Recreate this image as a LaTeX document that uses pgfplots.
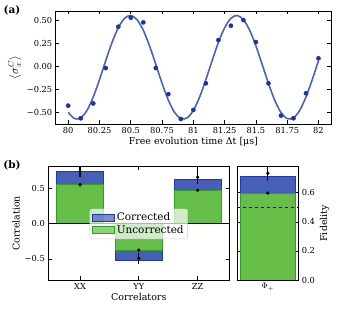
\documentclass[border=0pt]{standalone}
\usepackage{pgfplots}
\pgfplotsset{compat=1.18}
\usepackage{fontspec}
\setmainfont{DejaVu Serif}
\definecolor{curveblue}{RGB}{72,98,192}
\definecolor{dotblue}{RGB}{28,48,168}
\definecolor{corrfill}{RGB}{72,95,185}
\definecolor{corredge}{RGB}{35,55,170}
\definecolor{uncfill}{RGB}{102,190,72}
\definecolor{uncedge}{RGB}{45,160,30}
\pgfplotsset{
  base/.style={
    scale only axis,
    tick align=inside,
    xtick pos=both, ytick pos=both,
    major tick length=3.5bp,
    tick style={black, line width=0.7pt},
    axis line style={line width=0.8pt},
    /pgf/number format/assume math mode=true,
    tick label style={font=\fontsize{8.3}{9}\selectfont},
    label style={font=\fontsize{9.5}{11}\selectfont},
  }
}
\begin{document}
\begin{tikzpicture}
% ---------- (a)
\begin{axis}[base,
  at={(55.7bp,191bp)}, anchor=south west,
  width=275.3bp, height=113bp,
  xmin=79.9, xmax=82.1, ymin=-0.622, ymax=0.598,
  xtick={80,80.25,80.5,80.75,81,81.25,81.5,81.75,82},
  xticklabels={80,80.25,80.5,80.75,81,81.25,81.5,81.75,82},
  ytick={-0.5,-0.25,0,0.25,0.5},
  yticklabels={−0.50,−0.25,0.00,0.25,0.50},
  xlabel={Free evolution time Δt [μs]},
  ylabel={$\langle\sigma_x^{C}\rangle$},
  xlabel style={yshift=3bp},
  ylabel style={yshift=-1bp, font=\fontsize{11.5}{12}\selectfont},
]
\addplot[curveblue, line width=1.6pt, smooth] coordinates {
(80.00,-0.497) (80.05,-0.564) (80.10,-0.556) (80.15,-0.475) (80.20,-0.331)
(80.25,-0.143) (80.30,0.062) (80.35,0.258) (80.40,0.417) (80.45,0.519)
(80.50,0.550) (80.55,0.504) (80.60,0.390) (80.65,0.221) (80.70,0.021)
(80.75,-0.183) (80.80,-0.364) (80.85,-0.497) (80.90,-0.564) (80.95,-0.556)
(81.00,-0.475) (81.05,-0.331) (81.10,-0.143) (81.15,0.062) (81.20,0.258)
(81.25,0.417) (81.30,0.519) (81.35,0.550) (81.40,0.504) (81.45,0.390)
(81.50,0.221) (81.55,0.021) (81.60,-0.183) (81.65,-0.364) (81.70,-0.497)
(81.75,-0.564) (81.80,-0.556) (81.85,-0.475) (81.90,-0.331) (81.95,-0.143)
(82.00,0.062)};
\addplot[only marks, mark=*, mark size=2.1pt, dotblue, mark options={fill=dotblue}] coordinates {
(80.0,-0.424) (80.1,-0.56) (80.2,-0.40) (80.3,-0.018) (80.4,0.428)
(80.5,0.525) (80.6,0.475) (80.7,-0.018) (80.8,-0.30) (80.9,-0.568)
(81.0,-0.47) (81.1,-0.183) (81.2,0.284) (81.3,0.439) (81.4,0.50)
(81.5,0.263) (81.6,-0.183) (81.7,-0.532) (81.8,-0.56) (81.9,-0.29)
(82.0,0.087)};
\end{axis}
% ---------- (b) correlators
\begin{axis}[base,
  at={(48.3bp,35bp)}, anchor=south west,
  width=181bp, height=113.3bp,
  xmin=-0.54, xmax=2.54, ymin=-0.8, ymax=0.81,
  xtick={0,1,2}, xticklabels={XX,YY,ZZ},
  ytick={-0.5,0,0.5}, yticklabels={−0.5,0.0,0.5},
  xlabel={Correlators}, ylabel={Correlation},
  xlabel style={yshift=3bp},
  ylabel style={yshift=-2bp},
  legend style={at={(0.5,0.495)}, anchor=center, fill=white, fill opacity=0.7,
    text opacity=1, draw=gray!40, rounded corners=2pt,
    font=\fontsize{10.5}{12}\selectfont, inner sep=2pt, row sep=-1pt},
  legend cell align=left,
  legend image code/.code={\draw[#1, sharp corners] (0bp,-3.3bp) rectangle (22bp,3.3bp);},
]
\addplot[ybar, bar width=0.8, bar shift=0pt, fill=corrfill, draw=corredge, line width=0.9pt] coordinates {(0,0.739) (1,-0.516) (2,0.635)};
\addlegendentry{Corrected}
\addplot[ybar, bar width=0.8, bar shift=0pt, fill=uncfill, draw=uncedge, line width=0.9pt] coordinates {(0,0.554) (1,-0.378) (2,0.474)};
\addlegendentry{Uncorrected}
\addplot[black, line width=0.9pt, forget plot] coordinates {(-0.54,0) (2.54,0)};
\addplot[only marks, mark=*, mark size=1.5pt, black, forget plot,
  error bars/.cd, y dir=both, y explicit, error mark=none,
  error bar style={line width=1.3pt, black}] coordinates {
  (0,0.74) +- (0,0.07) (1,-0.495) +- (0,0.075) (2,0.66) +- (0,0.1)};
\addplot[only marks, mark=*, mark size=1.5pt, black, forget plot] coordinates {
  (0,0.553) (1,-0.375) (2,0.475)};
\end{axis}
% ---------- (b) fidelity
\begin{axis}[base,
  at={(237.3bp,35bp)}, anchor=south west,
  width=61bp, height=113.3bp,
  xmin=-0.44, xmax=0.44, ymin=0, ymax=0.78,
  xtick={0}, xticklabels={$\Phi_+$},
  ytick={0,0.2,0.4,0.6}, yticklabels={0.0,0.2,0.4,0.6},
  yticklabel pos=right,
  ylabel={Fidelity},
  ylabel style={yshift=2bp},
]
\addplot[ybar, bar width=0.8, bar shift=0pt, fill=corrfill, draw=corredge, line width=0.9pt] coordinates {(0,0.712)};
\addplot[ybar, bar width=0.8, bar shift=0pt, fill=uncfill, draw=uncedge, line width=0.9pt] coordinates {(0,0.598)};
\addplot[black, dashed, line width=0.9pt] coordinates {(-0.44,0.5) (0.44,0.5)};
\addplot[only marks, mark=*, mark size=1.5pt, black,
  error bars/.cd, y dir=both, y explicit, error mark=none,
  error bar style={line width=1.3pt, black}] coordinates {(0,0.735) +- (0,0.05)};
\addplot[only marks, mark=*, mark size=1.5pt, black] coordinates {(0,0.598)};
\end{axis}
\node[font=\bfseries\fontsize{10.5}{12}\selectfont] at (12bp,305bp) {(a)};
\node[font=\bfseries\fontsize{10.5}{12}\selectfont] at (12bp,150bp) {(b)};
\pgfresetboundingbox
\path (0,0) rectangle (339bp,315bp);
\end{tikzpicture}
\end{document}
